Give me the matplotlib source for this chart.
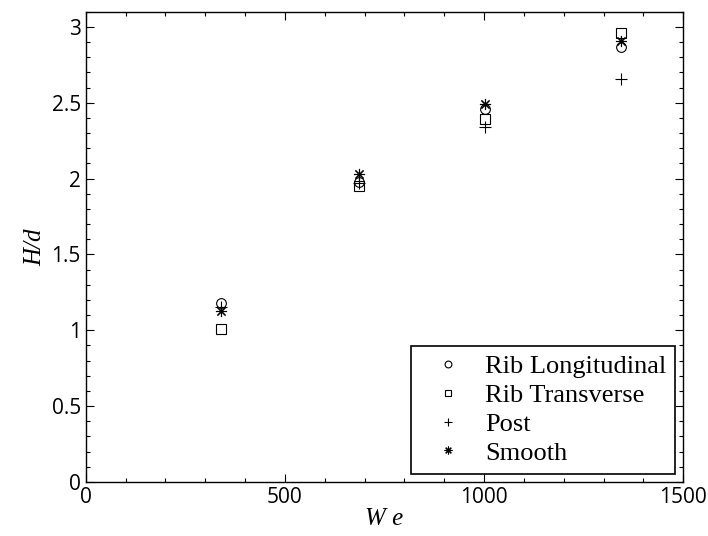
import matplotlib
matplotlib.use("Agg")
import matplotlib.pyplot as plt
from matplotlib.ticker import MultipleLocator

we = [340, 685, 1003, 1345]
rib_long = [1.18, 1.98, 2.46, 2.87]
rib_trans = [1.01, 1.95, 2.39, 2.96]
post = [1.15, 1.97, 2.34, 2.66]
smooth = [1.13, 2.03, 2.49, 2.91]

fig = plt.figure(figsize=(7.08, 5.36), dpi=100)
ax = fig.add_axes([0.121, 0.101, 0.844, 0.877])

ms = 7
ax.plot(we, rib_long, 'o', mfc='none', mec='black', ms=ms, mew=0.8, label='Rib Longitudinal')
ax.plot(we, rib_trans, 's', mfc='none', mec='black', ms=ms, mew=0.8, label='Rib Transverse')
ax.plot(we, post, '+', color='black', ms=ms + 2, mew=0.8, label='Post')
ax.plot(we, smooth, marker=(8, 2, 0), ls='none', color='black', ms=ms + 1, mew=0.8, label='Smooth')

ax.set_xlim(0, 1500)
ax.set_ylim(0, 3.1)
ax.xaxis.set_major_locator(MultipleLocator(500))
ax.xaxis.set_minor_locator(MultipleLocator(100))
ax.yaxis.set_minor_locator(MultipleLocator(0.1))
ax.set_yticks([0, 0.5, 1, 1.5, 2, 2.5, 3])
ax.set_yticklabels(['0', '0.5', '1', '1.5', '2', '2.5', '3'])
ax.tick_params(which='both', direction='in', top=True, right=True, width=0.8)
ax.tick_params(which='major', length=6, labelsize=15)
ax.tick_params(which='minor', length=3)
for lab in ax.get_xticklabels() + ax.get_yticklabels():
    lab.set_family('Open Sans')
for s in ax.spines.values():
    s.set_linewidth(1.0)

ax.set_xlabel('W e', fontsize=18, family='Liberation Serif', style='italic', labelpad=0)
ax.set_ylabel('H/d', fontsize=18, family='Liberation Serif', style='italic', labelpad=4)

leg = ax.legend(loc='lower right', prop={'family': 'Liberation Serif', 'size': 19},
                fancybox=False, edgecolor='black', framealpha=1, markerscale=0.7,
                labelspacing=0.2, handlelength=2.1, handletextpad=0.35,
                borderpad=0.35, borderaxespad=0.3)
leg.get_frame().set_linewidth(1.2)

fig.savefig('out.png', dpi=100)
